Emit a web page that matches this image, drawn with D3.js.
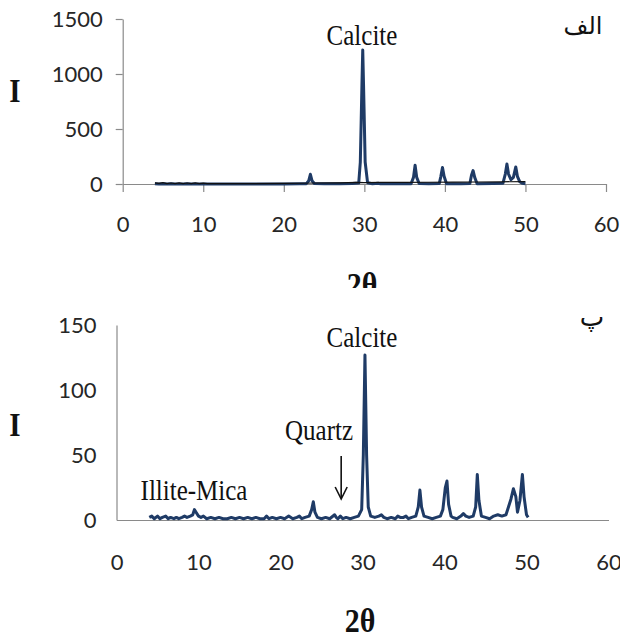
<!DOCTYPE html>
<html>
<head>
<meta charset="utf-8">
<script src="https://cdn.jsdelivr.net/npm/d3@7"></script>
<style>
  body { margin: 0; background: #fff; }
  svg { display: block; }
  .tick text { font-family: Lato, "Open Sans", sans-serif; font-size: 22px; fill: #262626; }
  .axis path, .axis line { stroke: #8a8a8a; stroke-width: 1.2; }
  .serif { font-family: "Liberation Serif", "Times New Roman", serif; fill: #111; }
  .farsi { font-family: "DejaVu Sans", "Noto Sans", sans-serif; fill: #111; }
</style>
</head>
<body>
<svg id="chart" width="620" height="640"></svg>
<script>
// Shared 2θ ticks
const thetaTicks = [0, 10, 20, 30, 40, 50, 60];

// Panel A (الف): whole-rock pattern
const topYTicks = [0, 500, 1000, 1500];
const topTheta = [4, 4.5, 5, 5.5, 6, 6.5, 7, 7.5, 8, 8.5, 9, 9.5, 10, 11, 12, 14, 16, 18, 20, 22, 22.8,
  23.1, 23.3, 23.5, 23.8, 25, 27, 28.5, 29.3, 29.5, 29.7, 29.8, 29.9, 30.1, 30.4, 31, 31.7, 32, 34,
  35.8, 36.1, 36.3, 36.5, 36.8, 38, 39.3, 39.5, 39.7, 39.9, 40.2, 42, 43.1, 43.3, 43.5, 43.7, 44,
  46, 47.2, 47.5, 47.7, 47.9, 48.2, 48.5, 48.8, 49.0, 49.3, 49.6, 50];
const topIntensity = [2, 0, 3, -1, 2, -1, 1, 0, 2, -1, 1, 0, 1, -1, 0, -1, 0, 0, 1, 2, 3,
  30, 88, 30, 4, 2, 3, 4, 8, 200, 900, 1218, 900, 200, 12, 3, 6, 2, 2,
  3, 60, 170, 60, 4, 2, 4, 70, 150, 70, 3, 2, 4, 80, 122, 60, 3,
  4, 6, 90, 182, 90, 40, 60, 155, 70, 20, 6, 3];
// thin background trace of panel A
const topBgTheta = [4, 4.5, 5, 5.5, 6, 6.5, 7, 7.5, 8, 8.5, 9, 9.5, 10, 10.5, 12, 16, 20, 22, 24, 27, 29, 30, 32, 35, 38, 41, 44, 47, 50];
const topBgIntensity = [10, 5, 12, 4, 9, 3, 10, 4, 9, 3, 10, 4, 8, 3, 3, 3, 5, 7, 9, 11, 14, 13, 14, 15, 16, 17, 18, 20, 22];

// Panel B (پ): clay fraction pattern
const botYTicks = [0, 50, 100, 150];
const botTheta = [4, 4.3, 4.6, 5, 5.3, 5.6, 6, 6.3, 6.6, 7, 7.3, 7.6, 8, 8.3, 8.6, 9, 9.3, 9.5, 9.7, 10,
  10.3, 10.6, 11, 11.5, 12, 12.5, 13, 13.5, 14, 14.5, 15, 15.5, 16, 16.5, 17, 17.5, 18, 18.3, 18.6,
  19, 19.5, 20, 20.5, 21, 21.5, 22, 22.3, 22.6, 23, 23.5, 23.8, 24.0, 24.2, 24.5, 25, 25.5, 26,
  26.6, 26.8, 27, 27.3, 27.6, 28, 28.5, 29, 29.5, 29.9, 30.1, 30.3, 30.5, 30.7, 31, 31.5, 32, 32.3,
  32.6, 33, 33.5, 34, 34.3, 34.6, 35, 35.3, 35.6, 36, 36.5, 36.8, 37.0, 37.2, 37.5, 38, 38.5, 39,
  39.5, 39.8, 40.1, 40.3, 40.5, 40.8, 41, 41.5, 42, 42.3, 42.6, 43, 43.5, 43.8, 44.0, 44.2, 44.5,
  45, 45.5, 46, 46.5, 47, 47.5, 47.8, 48.1, 48.4, 48.7, 48.9, 49.2, 49.5, 49.7, 50, 50.2];
const botIntensity = [2, 3, 1, 3, 1, 2, 3, 1, 2, 1, 2, 1, 2, 3, 2, 3, 4, 8, 6, 3,
  2, 3, 1, 2, 1, 2, 1, 1, 2, 1, 2, 1, 2, 1, 2, 1, 1, 3, 1,
  2, 1, 2, 1, 3, 1, 2, 3, 1, 2, 3, 8, 14, 6, 2, 1, 2, 1,
  4, 2, 1, 3, 1, 2, 1, 2, 3, 8, 50, 127, 50, 10, 3, 2, 3, 4,
  2, 1, 2, 1, 3, 2, 2, 3, 1, 2, 3, 10, 23, 10, 3, 2, 1, 2,
  3, 8, 25, 30, 12, 3, 2, 1, 3, 5, 3, 2, 3, 10, 35, 15, 3,
  2, 1, 3, 4, 3, 4, 10, 16, 24, 18, 6, 15, 35, 18, 4, 2];

const svg = d3.select("#chart");
const fmt = d3.format("d");

// serif label, slightly tall as in the printed figure
function label(g, txt, x, y, size, bold, cls = "serif", sy = 1.15) {
  return g.append("text").attr("class", cls)
    .attr("transform", `translate(${x},${y}) scale(1,${sy})`)
    .attr("text-anchor", "middle").attr("font-size", size)
    .attr("font-weight", bold ? "bold" : "normal").text(txt);
}

// ---------- Panel A ----------
svg.append("clipPath").attr("id", "clipTop")
  .append("rect").attr("x", 0).attr("y", 0).attr("width", 620).attr("height", 288);
const gA = svg.append("g").attr("clip-path", "url(#clipTop)");

const xA = d3.scaleLinear().domain([0, 60]).range([122.7, 606]);
const yA = d3.scaleLinear().domain([0, 1500]).range([184, 19]);

gA.append("g").attr("class", "axis")
  .attr("transform", `translate(${xA(0)},0)`)
  .call(d3.axisLeft(yA).tickValues(topYTicks).tickFormat(fmt).tickSize(7).tickSizeOuter(0).tickPadding(13));
gA.append("g").attr("class", "axis")
  .attr("transform", `translate(0,${yA(0)})`)
  .call(d3.axisBottom(xA).tickValues(thetaTicks).tickFormat(fmt).tickSize(8).tickSizeOuter(0).tickPadding(24));

const lineA = d3.line().x(i => xA(topTheta[i])).y(i => yA(topIntensity[i]));
const lineABg = d3.line().x(i => xA(topBgTheta[i])).y(i => yA(topBgIntensity[i]));
gA.append("path").attr("d", lineA(d3.range(topTheta.length)))
  .attr("fill", "none").attr("stroke", "#1f3b66").attr("stroke-width", 3).attr("stroke-linejoin", "round");
gA.append("path").attr("d", lineABg(d3.range(topBgTheta.length)))
  .attr("fill", "none").attr("stroke", "#111").attr("stroke-width", 1.2);

label(gA, "Calcite", 362, 45, 25, false);
label(gA, "I", 15, 102, 29, true);
label(gA, "2θ", 362, 296, 30, true);
label(gA, "الف", 583, 34, 24, false, "farsi", 1);

// ---------- Panel B ----------
const gB = svg.append("g");
const xB = d3.scaleLinear().domain([0, 60]).range([116.5, 608.5]);
const yB = d3.scaleLinear().domain([0, 150]).range([520, 325]);

gB.append("g").attr("class", "axis")
  .attr("transform", `translate(${xB(0)},0)`)
  .call(d3.axisLeft(yB).tickValues(botYTicks).tickFormat(fmt).tickSize(0).tickSizeOuter(0).tickPadding(20));
gB.append("g").attr("class", "axis")
  .attr("transform", `translate(0,${yB(0)})`)
  .call(d3.axisBottom(xB).tickValues(thetaTicks).tickFormat(fmt).tickSize(0).tickSizeOuter(0).tickPadding(34));

const lineB = d3.line().x(i => xB(botTheta[i])).y(i => yB(botIntensity[i]));
gB.append("path").attr("d", lineB(d3.range(botTheta.length)))
  .attr("fill", "none").attr("stroke", "#1f3b66").attr("stroke-width", 3).attr("stroke-linejoin", "round");

label(gB, "Calcite", 362, 347, 25, false);
label(gB, "Quartz", 319, 440, 25, false);
label(gB, "Illite-Mica", 194, 500, 25, false);
label(gB, "I", 15, 436, 29, true);
label(gB, "2θ", 360, 632, 30, true);
label(gB, "پ", 592, 326, 26, false, "farsi", 1);

// Quartz marker arrow
const qx = xB(27.4);
gB.append("line").attr("x1", qx).attr("x2", qx).attr("y1", 456).attr("y2", 498)
  .attr("stroke", "#111").attr("stroke-width", 1.6);
gB.append("path").attr("d", `M${qx - 6},${487}L${qx},${499}L${qx + 6},${487}`)
  .attr("fill", "none").attr("stroke", "#111").attr("stroke-width", 1.6);
</script>
</body>
</html>
